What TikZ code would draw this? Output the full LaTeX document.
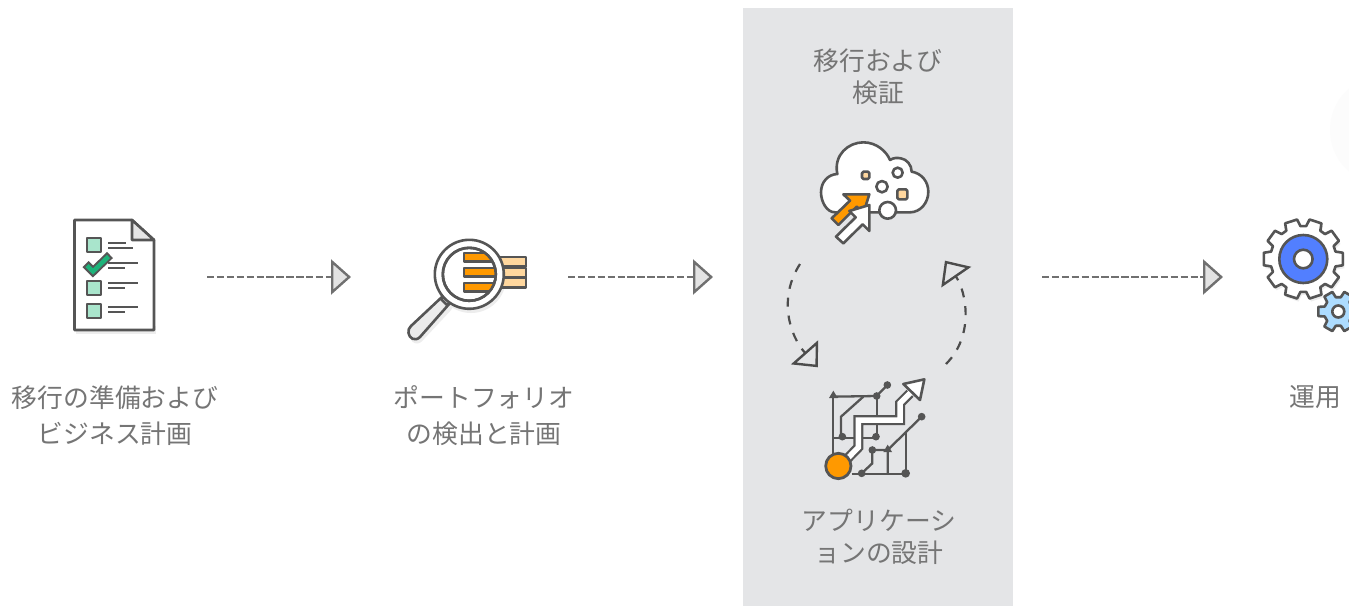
\documentclass[tikz,border=0pt]{standalone}
\usepackage{fontspec}
\setmainfont{Noto Sans CJK JP}
\usetikzlibrary{arrows.meta}

\definecolor{panelgray}{HTML}{E4E5E7}
\definecolor{inkgray}{HTML}{555555}
\definecolor{labelgray}{HTML}{757575}
\definecolor{awsorange}{HTML}{FF9900}
\definecolor{paleorange}{HTML}{FFD79E}
\definecolor{palegreen}{HTML}{A9E5CC}
\definecolor{checkgreen}{HTML}{1DB37A}
\definecolor{gearblue}{HTML}{527FFF}
\definecolor{paleblue}{HTML}{ADDCFF}
\definecolor{flowgray}{HTML}{707070}

\tikzset{
	steplabel/.style={text=labelgray,align=center,inner sep=0pt,font=\fontsize{25.8}{36}\selectfont},
	paneltext/.style={steplabel,font=\fontsize{25.8}{32}\selectfont},
	hub/.style={inner sep=0pt,outer sep=0pt,minimum height=10pt},
	flow/.style={draw=flowgray,line width=2.2pt,dash pattern=on 7.4pt off 2.5pt,
		-{Triangle[length=20pt,width=35pt,fill=black!11,line width=2.4pt]}},
	turn/.style={draw=inkgray!90!black,line width=2.2pt,dash pattern=on 9pt off 9pt,
		-{Triangle[length=20pt,width=36pt,open,sep=7pt,line width=2.4pt]}},
	icon/.style={draw=inkgray,line width=2.6pt,line join=round},
	shade/.style={fill=black!7,draw=none},
	wire/.style={draw=inkgray,line width=2.3pt},
	dot/.style={fill=inkgray,draw=none}
}

\begin{document}
\begin{tikzpicture}[x=1pt,y=-1pt]
	\clip (0,0) rectangle (1349,606);
	\fill[white] (0,0) rectangle (1349,606);
	\fill[panelgray] (743,8) rectangle (1013,606);
	\fill[black!1] (1385,130) circle (55);

	% anchors for the connectors
	\node[hub,minimum width=92pt] (plan) at (161,277) {};
	\node[hub,minimum width=217pt] (scan) at (459.5,277) {};
	\node[hub,minimum width=329pt] (move) at (877.5,277) {};
	\node[hub,minimum width=100pt] (run) at (1273,277) {};
	\coordinate (loopa) at (800,264);
	\coordinate (loopb) at (822.4,372.5);
	\coordinate (loopc) at (946,364);
	\coordinate (loopd) at (941,254.9);

	\draw[flow] (plan.east) -- (scan.west);
	\draw[flow] (scan.east) -- (move.west);
	\draw[turn] (loopa) .. controls (778,298) and (789.4,335.2) .. (loopb);
	\draw[turn] (loopc) .. controls (975,335) and (966,291.2) .. (loopd);
	\draw[flow] (move.east) -- (run.west);

	% checklist
	\fill[shade] (76,326) rectangle (156,334);
	\draw[icon,fill=white] (74.5,220) -- (132,220) -- (154,240) -- (154,330) -- (74.5,330) -- cycle;
	\draw[icon,fill=black!10] (132,220) -- (154,240) -- (132,240) -- cycle;
	\foreach \y in {238,281,304}
		\draw[icon,fill=palegreen] (87,\y) rectangle (101,\y+14);
	\foreach \y/\a/\b in {243/126/133,263/138/125,283/138/125,307/138/125} {
		\draw[wire] (108,\y) -- (\a,\y);
		\draw[wire] (108,\y+5) -- (\b,\y+5);
	}
	\draw[inkgray,line width=8.5pt,line join=miter] (85.5,264) -- (93,271.5) -- (110,255);
	\draw[checkgreen,line width=4.5pt] (87,265.5) -- (93,271.5) -- (108.5,256.5);

	% magnifier
	\fill[shade] (471,278) circle (35);
	\draw[black!7,line width=13pt,line cap=round] (446,306) -- (417,337);
	\foreach \y in {257,268,278}
		\draw[icon,fill=paleorange] (500,\y) rectangle (526,\y+9.5);
	\draw[icon,fill=black!8]
		(443,296) -- (450,303) -- (420,337) .. controls (415,342) and (409,338) .. (408.5,333) .. controls (408,330) and (409,328) .. (411,326) -- cycle;
	\draw[icon,fill=white] (441,299) -- (447,305) -- (452,300) -- (446,294) -- cycle;
	\draw[icon,fill=white] (469.3,274.3) circle (34.5);
	\draw[icon,fill=white] (469.3,274.3) circle (26.5);
	\begin{scope}
		\clip (469.3,274.3) circle (26.5);
		\foreach \y in {253,268,283}
			\draw[icon,fill=awsorange] (464,\y) rectangle (510,\y+8.5);
	\end{scope}
	\draw[icon] (469.3,274.3) circle (26.5);

	% cloud
	\begin{scope}[shift={(810,135)},x=0.3333pt,y=-0.3333pt]
		\draw[icon,fill=white] (75,232) .. controls (50,232) and (33,200) .. (33,172)
			.. controls (33,140) and (55,118) .. (82,117) .. controls (70,60) and (115,22) .. (160,22)
			.. controls (200,22) and (230,50) .. (240,75) .. controls (250,68) and (262,68) .. (272,70)
			.. controls (290,72) and (305,90) .. (305,110) .. controls (335,115) and (355,140) .. (355,170)
			.. controls (355,205) and (330,232) .. (300,232) -- cycle;
		\draw[icon,fill=paleorange,rounded corners=1.5pt] (156,110) rectangle (178,132);
		\draw[icon,fill=paleorange,rounded corners=1.5pt] (262,163) rectangle (292,193);
		\draw[icon,fill=white] (263,113) circle (15);
		\draw[icon,fill=white] (216,155) circle (17);
		\draw[icon,fill=white] (233,226) circle (25);
		\draw[icon,fill=awsorange] (178,178) -- (100,178) -- (120,197) -- (65,250) -- (85,270) -- (140,215) -- (160,235) -- cycle;
		\draw[icon,fill=white] (178,210) -- (178,288) -- (158,268) -- (100,325) -- (78,305) -- (137,247) -- (118,228) -- cycle;
	\end{scope}

	% application network
	\begin{scope}[shift={(815,370)},x=0.3333pt,y=-0.3333pt]
		\draw[wire] (55,75) -- (55,260);
		\draw[wire] (55,80) -- (185,78) -- (217,45);
		\draw[wire] (185,78) -- (185,200);
		\draw[wire] (145,80) -- (78,140) -- (78,200);
		\draw[wire] (55,203) -- (185,203);
		\draw[wire] (110,312) -- (272,312) -- (272,190);
		\draw[wire] (140,310) -- (172,280) -- (172,240) -- (218,240) -- (218,312);
		\draw[wire] (218,240) -- (320,140);
		\fill[dot] (55,62) -- (68,84) -- (42,84) -- cycle;
		\fill[dot] (218,224) -- (231,246) -- (205,246) -- cycle;
		\foreach \p/\q in {185/78,217/45,82/200,183/200,140/310,172/240,320/140} \fill[dot] (\p,\q) circle (11.5);
		\fill[dot] (272,310) circle (13);
		\draw[inkgray,line width=10pt,line join=miter] (95,268) -- (130,232) -- (130,150) -- (255,150) -- (255,100) -- (285,70);
		\draw[white,line width=5.5pt,line join=miter] (95,268) -- (130,232) -- (130,150) -- (255,150) -- (255,100) -- (287,68);
		\draw[icon,fill=white] (328,28) -- (265,42) -- (315,90) -- cycle;
		\draw[icon,line width=2.8pt,fill=awsorange] (70,288) circle (38);
	\end{scope}

	% gears
	\begin{scope}[shift={(1303.3,259)}]
		\begin{scope}[shift={(1.5,3)}]
			\fill[shade] (-13:33) \foreach \a in {0,36,...,324} { -- (\a-9:40) -- (\a+9:40) -- (\a+13:33) -- (\a+23:33)} -- cycle;
		\end{scope}
		\draw[icon,fill=white] (-13:33) \foreach \a in {0,36,...,324} { -- (\a-9:40) -- (\a+9:40) -- (\a+13:33) -- (\a+23:33)} -- cycle;
		\draw[icon,fill=gearblue] (0,0) circle (24);
		\draw[icon,fill=white] (0,0) circle (9.3);
	\end{scope}
	\begin{scope}[shift={(1338.3,311.5)}]
		\draw[icon,fill=paleblue] (-20:14.5) \foreach \a in {0,60,...,300} { -- (\a-13:20.5) -- (\a+13:20.5) -- (\a+20:14.5) -- (\a+40:14.5)} -- cycle;
		\draw[icon,fill=white] (0,0) circle (6);
	\end{scope}

	% labels
	\node[steplabel] (plantext) at (115,415.5) {移行の準備および\\ビジネス計画};
	\node[steplabel] (scantext) at (484,415.5) {ポートフォリオ\\の検出と計画};
	\node[paneltext] (movetext) at (878,77) {移行および\\検証};
	\node[paneltext] (designtext) at (879,537) {アプリケーシ\\ョンの設計};
	\node[steplabel] (runtext) at (1315,397) {運用};
\end{tikzpicture}
\end{document}
